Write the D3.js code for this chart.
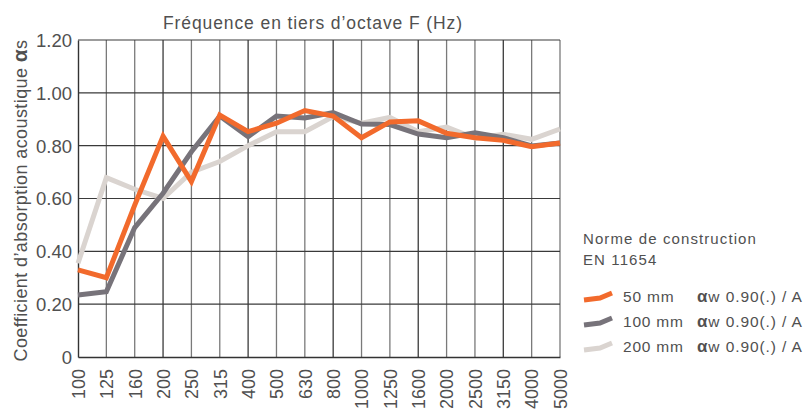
<!DOCTYPE html>
<html>
<head>
<meta charset="utf-8">
<script src="https://cdn.jsdelivr.net/npm/d3@7"></script>
<style>
  html, body { margin: 0; padding: 0; background: #fff; }
  svg text { font-family: "Liberation Sans", Arial, sans-serif; fill: #505050; }
</style>
</head>
<body>
<svg id="chart" width="804" height="411"></svg>
<script>
(function () {
    'use strict';

    const frequencies = ['100', '125', '160', '200', '250', '315', '400', '500', '630', '800', '1000', '1250', '1600', '2000', '2500', '3150', '4000', '5000'];
    const yTicks = [0, 0.2, 0.4, 0.6, 0.8, 1.0, 1.2];

    const mm50 = [0.33, 0.30, 0.575, 0.836, 0.664, 0.916, 0.853, 0.885, 0.933, 0.912, 0.83, 0.89, 0.894, 0.847, 0.83, 0.82, 0.796, 0.81];
    const mm100 = [0.235, 0.247, 0.49, 0.62, 0.777, 0.912, 0.834, 0.912, 0.905, 0.925, 0.882, 0.88, 0.844, 0.83, 0.849, 0.83, 0.799, 0.81];
    const mm200 = [0.355, 0.679, 0.635, 0.60, 0.70, 0.74, 0.80, 0.853, 0.853, 0.91, 0.885, 0.907, 0.853, 0.87, 0.828, 0.843, 0.824, 0.863];

    const seriesNames = ['50 mm', '100 mm', '200 mm'];
    const seriesColors = ['#f26a2c', '#77737a', '#dad4d0'];
    const ratingLabel = 'w 0.90(.) / A';

    const margin = { top: 40, left: 78, right: 244, bottom: 54 };
    const svg = d3.select('#chart');
    const width = 804 - margin.left - margin.right;
    const height = 411 - margin.top - margin.bottom;

    const x = d3.scalePoint().domain(frequencies).range([0, width]);
    const y = d3.scaleLinear().domain([0, 1.2]).range([height, 0]);

    const g = svg.append('g').attr('transform', 'translate(' + margin.left + ',' + margin.top + ')');

    // vertical grid
    g.append('g').selectAll('line').data(frequencies.slice(1)).enter().append('line')
        .attr('x1', function (d) { return x(d); })
        .attr('x2', function (d) { return x(d); })
        .attr('y1', 0).attr('y2', height)
        .attr('stroke', function (d, i) { return i % 3 === 2 ? '#3a3a3a' : '#7a7a7a'; })
        .attr('stroke-width', 1.3);

    // horizontal grid
    g.append('g').selectAll('line').data(yTicks.slice(1)).enter().append('line')
        .attr('x1', 0).attr('x2', width)
        .attr('y1', function (d) { return y(d); })
        .attr('y2', function (d) { return y(d); })
        .attr('stroke', '#3a3a3a')
        .attr('stroke-width', 1.2);

    // axes
    const yAxis = d3.axisLeft(y).tickValues(yTicks).tickSize(0).tickPadding(6)
        .tickFormat(function (d) { return d === 0 ? '0' : d3.format('.2f')(d); });
    g.append('g').call(yAxis)
        .call(function (a) { a.select('.domain').attr('stroke', '#333').attr('stroke-width', 1.4); })
        .call(function (a) { a.selectAll('text').style('font-size', '18.5px').attr('dy', '0.35em'); });

    const xAxis = d3.axisBottom(x).tickSize(0).tickPadding(0);
    g.append('g').attr('transform', 'translate(0,' + height + ')').call(xAxis)
        .call(function (a) { a.select('.domain').attr('stroke', '#333').attr('stroke-width', 1.4); })
        .call(function (a) {
            a.selectAll('text')
                .style('font-size', '18px')
                .attr('text-anchor', 'end')
                .attr('transform', 'rotate(-90)')
                .attr('x', -12).attr('y', 0).attr('dy', '0.35em');
        });

    // lines
    const line = d3.line()
        .x(function (d, i) { return x(frequencies[i]); })
        .y(function (d) { return y(d); });

    const series = [mm50, mm100, mm200];
    g.append('g').selectAll('path').data([2, 1, 0]).enter().append('path')
        .attr('d', function (k) { return line(series[k]); })
        .attr('fill', 'none')
        .attr('stroke', function (k) { return seriesColors[k]; })
        .attr('stroke-width', 5)
        .attr('stroke-linejoin', 'miter');

    // titles
    svg.append('text').text('Fréquence en tiers d\u2019octave F (Hz)')
        .attr('x', 313).attr('y', 29)
        .attr('text-anchor', 'middle').style('font-size', '17.5px').style('letter-spacing', '0.9px');

    const yTitle = svg.append('text')
        .attr('transform', 'translate(27,' + (margin.top + height / 2 + 2) + ') rotate(-90)')
        .attr('text-anchor', 'middle').style('font-size', '18px').style('letter-spacing', '0.4px');
    yTitle.append('tspan').text('Coefficient d\u2019absorption acoustique ');
    yTitle.append('tspan').text('\u03b1').style('font-weight', 'bold').style('font-size', '21px');
    yTitle.append('tspan').text('s');

    // legend
    const legend = svg.append('g').attr('transform', 'translate(583,0)');
    legend.append('text').text('Norme de construction').attr('x', 0).attr('y', 244).style('font-size', '15px').style('letter-spacing', '1.1px');
    legend.append('text').text('EN 11654').attr('x', 0).attr('y', 265).style('font-size', '15px').style('letter-spacing', '1.1px');

    const rows = legend.selectAll('.row').data(seriesNames).enter().append('g')
        .attr('class', 'row')
        .attr('transform', function (d, i) { return 'translate(0,' + (297 + i * 25) + ')'; });

    rows.append('path')
        .attr('d', 'M1,3 L17,1 L29,-4')
        .attr('fill', 'none')
        .attr('stroke', function (d, i) { return seriesColors[i]; })
        .attr('stroke-width', 5);

    rows.append('text').text(function (d) { return d; })
        .attr('x', 40).attr('y', 0).attr('dy', '0.35em').style('font-size', '15.5px').style('letter-spacing', '0.8px');

    const rating = rows.append('text').attr('x', 114).attr('y', 0).attr('dy', '0.35em').style('font-size', '15.5px').style('letter-spacing', '0.9px');
    rating.append('tspan').text('\u03b1').style('font-weight', 'bold').style('font-size', '17px');
    rating.append('tspan').text(ratingLabel);
}());
</script>
</body>
</html>
